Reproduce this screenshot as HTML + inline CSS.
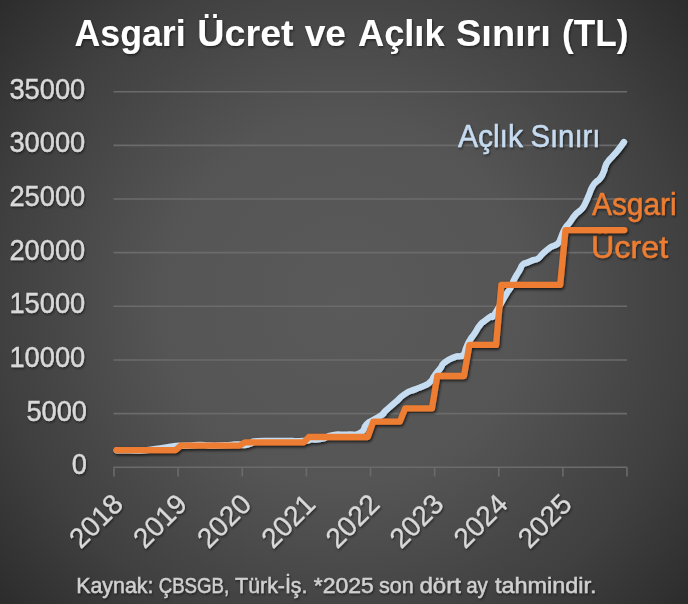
<!DOCTYPE html>
<html><head><meta charset="utf-8"><style>
html,body{margin:0;padding:0;width:688px;height:604px;overflow:hidden;background:#3a3a3a}
svg{display:block}
</style></head><body>
<svg width="688" height="604" viewBox="0 0 688 604">
<defs>
<radialGradient id="bg" gradientUnits="userSpaceOnUse" cx="344" cy="302" r="457.7">
<stop offset="0" stop-color="#5a5a5a"/>
<stop offset="0.4" stop-color="#555555"/>
<stop offset="0.66" stop-color="#454545"/>
<stop offset="0.75" stop-color="#404040"/>
<stop offset="1" stop-color="#2c2c2c"/>
</radialGradient>
<filter id="sh" x="-10%" y="-10%" width="130%" height="130%">
<feDropShadow dx="1" dy="1.6" stdDeviation="1.6" flood-color="#000" flood-opacity="0.75"/>
</filter>
<filter id="tsh" x="-10%" y="-20%" width="130%" height="150%">
<feDropShadow dx="1" dy="1.5" stdDeviation="1" flood-color="#000" flood-opacity="0.5"/>
</filter>
</defs>
<rect width="688" height="604" fill="url(#bg)"/>
<g stroke="#6b6b6b" stroke-width="1.6" fill="none"><line x1="113.5" y1="413.64" x2="627" y2="413.64"/><line x1="113.5" y1="359.98" x2="627" y2="359.98"/><line x1="113.5" y1="306.32" x2="627" y2="306.32"/><line x1="113.5" y1="252.66" x2="627" y2="252.66"/><line x1="113.5" y1="199.00" x2="627" y2="199.00"/><line x1="113.5" y1="145.34" x2="627" y2="145.34"/><line x1="113.5" y1="91.68" x2="627" y2="91.68"/>
<line x1="113.5" y1="467.3" x2="627" y2="467.3"/><line x1="114.00" y1="467.30" x2="114.00" y2="476.5"/><line x1="178.12" y1="467.30" x2="178.12" y2="476.5"/><line x1="242.25" y1="467.30" x2="242.25" y2="476.5"/><line x1="306.38" y1="467.30" x2="306.38" y2="476.5"/><line x1="370.50" y1="467.30" x2="370.50" y2="476.5"/><line x1="434.62" y1="467.30" x2="434.62" y2="476.5"/><line x1="498.75" y1="467.30" x2="498.75" y2="476.5"/><line x1="562.88" y1="467.30" x2="562.88" y2="476.5"/><line x1="627.00" y1="467.30" x2="627.00" y2="476.5"/></g>
<g font-family="'Liberation Sans', Arial, sans-serif" font-weight="bold" font-size="37.3" fill="#fff" filter="url(#tsh)"><text x="74.54" y="45.9" textLength="111.03" lengthAdjust="spacingAndGlyphs">Asgari</text><text x="197.33" y="45.9" textLength="96.33" lengthAdjust="spacingAndGlyphs">Ücret</text><text x="304.65" y="45.9" textLength="41.38" lengthAdjust="spacingAndGlyphs">ve</text><text x="358.03" y="45.9" textLength="86.57" lengthAdjust="spacingAndGlyphs">Açlık</text><text x="456.08" y="45.9" textLength="94.77" lengthAdjust="spacingAndGlyphs">Sınırı</text><text x="561.95" y="45.9" textLength="66.41" lengthAdjust="spacingAndGlyphs">(TL)</text></g>
<g font-family="'Liberation Sans', Arial, sans-serif" font-size="28.8" fill="#d9d9d9" stroke="#d9d9d9" stroke-width="0.4" filter="url(#tsh)"><text x="71.81" y="474.2" textLength="15.15" lengthAdjust="spacingAndGlyphs">0</text><text x="26.39" y="420.5" textLength="60.61" lengthAdjust="spacingAndGlyphs">5000</text><text x="9.45" y="366.9" textLength="75.77" lengthAdjust="spacingAndGlyphs">10000</text><text x="9.45" y="313.2" textLength="75.77" lengthAdjust="spacingAndGlyphs">15000</text><text x="9.45" y="259.6" textLength="75.77" lengthAdjust="spacingAndGlyphs">20000</text><text x="9.45" y="205.9" textLength="75.77" lengthAdjust="spacingAndGlyphs">25000</text><text x="9.45" y="152.2" textLength="75.77" lengthAdjust="spacingAndGlyphs">30000</text><text x="9.45" y="98.6" textLength="75.77" lengthAdjust="spacingAndGlyphs">35000</text></g>
<g font-family="'Liberation Sans', Arial, sans-serif" font-size="28" fill="#d9d9d9" stroke="#d9d9d9" stroke-width="0.25" filter="url(#tsh)"><text transform="translate(124.7,505.7) rotate(-45)" text-anchor="end">2018</text><text transform="translate(188.8,505.7) rotate(-45)" text-anchor="end">2019</text><text transform="translate(252.9,505.7) rotate(-45)" text-anchor="end">2020</text><text transform="translate(317.1,505.7) rotate(-45)" text-anchor="end">2021</text><text transform="translate(381.2,505.7) rotate(-45)" text-anchor="end">2022</text><text transform="translate(445.3,505.7) rotate(-45)" text-anchor="end">2023</text><text transform="translate(509.4,505.7) rotate(-45)" text-anchor="end">2024</text><text transform="translate(573.6,505.7) rotate(-45)" text-anchor="end">2025</text></g>
<g font-family="'Liberation Sans', Arial, sans-serif" font-size="32" fill="#c6dbf0" stroke="#c6dbf0" stroke-width="0.5" filter="url(#tsh)"><text x="457.90" y="146.6" textLength="65.05" lengthAdjust="spacingAndGlyphs">Açlık</text><text x="530.42" y="146.6" textLength="70.10" lengthAdjust="spacingAndGlyphs">Sınırı</text></g>
<g font-family="'Liberation Sans', Arial, sans-serif" font-size="31" fill="#ed7d31" stroke="#ed7d31" stroke-width="0.5" filter="url(#tsh)"><text x="592.00" y="215.3" textLength="84.70" lengthAdjust="spacingAndGlyphs">Asgari</text></g>
<g font-family="'Liberation Sans', Arial, sans-serif" font-size="32" fill="#ed7d31" stroke="#ed7d31" stroke-width="0.5" filter="url(#tsh)"><text x="590.97" y="258.3" textLength="77.23" lengthAdjust="spacingAndGlyphs">Ücret</text></g>
<g filter="url(#sh)" fill="none" stroke-linejoin="round" stroke-linecap="round" stroke-width="6.3">
<path d="M116.70,450.30 C121.13,450.30 120.90,450.30 130.00,450.30 C139.10,450.30 134.00,450.97 144.00,450.30 C154.00,449.63 149.33,449.73 160.00,448.30 C170.67,446.87 169.00,446.83 176.00,446.00 C183.00,445.17 176.33,445.93 181.00,445.80 C185.67,445.67 183.67,445.93 190.00,445.60 C196.33,445.27 193.33,444.83 200.00,444.80 C206.67,444.77 201.67,445.37 210.00,445.50 C218.33,445.63 216.67,445.53 225.00,445.20 C233.33,444.87 230.00,444.73 235.00,444.50 C240.00,444.27 236.67,444.33 240.00,444.50 C243.33,444.67 241.00,445.50 245.00,445.00 C249.00,444.50 248.00,444.27 252.00,443.00 C256.00,441.73 247.67,441.87 257.00,441.20 C266.33,440.53 264.33,441.13 280.00,441.00 C295.67,440.87 294.00,441.30 304.00,440.80 C314.00,440.30 304.33,440.10 310.00,439.50 C315.67,438.90 313.33,440.50 321.00,439.00 C328.67,437.50 324.33,436.47 333.00,435.00 C341.67,433.53 338.00,435.27 347.00,434.60 C356.00,433.93 353.47,436.47 360.00,433.00 C366.53,429.53 362.07,428.60 366.60,424.20 C371.13,419.80 368.37,423.00 373.60,419.80 C378.83,416.60 378.50,417.40 382.30,414.60 C386.10,411.80 380.80,415.37 385.00,411.40 C389.20,407.43 388.27,408.50 394.90,402.70 C401.53,396.90 398.27,398.40 404.90,394.00 C411.53,389.60 408.20,392.33 414.80,389.50 C421.40,386.67 419.40,388.20 424.70,385.50 C430.00,382.80 427.37,384.77 430.70,381.40 C434.03,378.03 431.40,379.87 434.70,375.40 C438.00,370.93 437.20,372.37 440.60,368.00 C444.00,363.63 440.13,365.97 444.90,362.30 C449.67,358.63 449.87,359.03 454.90,357.00 C459.93,354.97 457.13,357.03 460.00,356.20 C462.87,355.37 461.33,357.57 463.50,354.50 C465.67,351.43 464.40,351.73 466.50,347.00 C468.60,342.27 467.07,344.87 469.80,340.30 C472.53,335.73 471.40,338.27 474.70,333.30 C478.00,328.33 476.37,329.53 479.70,325.40 C483.03,321.27 481.07,323.87 484.70,320.90 C488.33,317.93 487.17,318.97 490.60,316.50 C494.03,314.03 490.03,320.57 495.00,313.50 C499.97,306.43 500.33,303.87 505.50,295.30 C510.67,286.73 507.40,293.47 510.50,287.80 C513.60,282.13 511.70,284.27 514.80,278.30 C517.90,272.33 517.13,274.50 519.80,269.90 C522.47,265.30 520.23,266.97 522.80,264.50 C525.37,262.03 523.97,264.00 527.50,262.50 C531.03,261.00 529.93,261.27 533.40,260.00 C536.87,258.73 534.90,260.70 537.90,258.70 C540.90,256.70 539.17,257.10 542.40,254.00 C545.63,250.90 544.63,251.80 547.60,249.40 C550.57,247.00 548.83,248.17 551.30,246.80 C553.77,245.43 552.53,246.73 555.00,245.30 C557.47,243.87 556.70,245.10 558.70,242.50 C560.70,239.90 558.97,242.07 561.00,237.50 C563.03,232.93 561.87,233.87 564.80,228.80 C567.73,223.73 566.47,226.77 569.80,222.30 C573.13,217.83 571.50,219.20 574.80,215.40 C578.10,211.60 577.07,213.40 579.70,210.90 C582.33,208.40 580.70,210.73 582.70,207.90 C584.70,205.07 583.63,206.70 585.70,202.40 C587.77,198.10 586.63,200.30 588.90,195.00 C591.17,189.70 590.13,190.83 592.50,186.50 C594.87,182.17 593.50,184.67 596.00,182.00 C598.50,179.33 597.47,181.83 600.00,178.50 C602.53,175.17 601.77,176.17 603.60,172.00 C605.43,167.83 604.03,169.50 605.50,166.00 C606.97,162.50 605.83,164.50 608.00,161.50 C610.17,158.50 608.77,160.67 612.00,157.00 C615.23,153.33 613.70,155.50 617.70,150.50 C621.70,145.50 621.90,144.83 624.00,142.00" stroke="#c6dcf0"/>
<polyline points="116.7,450.1 122.0,450.1 127.4,450.1 132.7,450.1 138.0,450.1 143.4,450.1 148.7,450.1 154.1,450.1 159.4,450.1 164.8,450.1 170.1,450.1 175.5,450.1 180.8,445.6 186.1,445.6 191.5,445.6 196.8,445.6 202.2,445.6 207.5,445.6 212.9,445.6 218.2,445.6 223.5,445.6 228.9,445.6 234.2,445.6 239.6,445.6 244.9,442.4 250.3,442.4 255.6,442.4 261.0,442.4 266.3,442.4 271.6,442.4 277.0,442.4 282.3,442.4 287.7,442.4 293.0,442.4 298.4,442.4 303.7,442.4 309.0,437.0 314.4,437.0 319.7,437.0 325.1,437.0 330.4,437.0 335.8,437.0 341.1,437.0 346.5,437.0 351.8,437.0 357.1,437.0 362.5,437.0 367.8,437.0 373.2,421.7 378.5,421.7 383.9,421.7 389.2,421.7 394.5,421.7 399.9,421.7 405.2,408.3 410.6,408.3 415.9,408.3 421.3,408.3 426.6,408.3 432.0,408.3 437.3,376.0 442.6,376.0 448.0,376.0 453.3,376.0 458.7,376.0 464.0,376.0 469.4,344.9 474.7,344.9 480.0,344.9 485.4,344.9 490.7,344.9 496.1,344.9 501.4,284.8 506.8,284.8 512.1,284.8 517.5,284.8 522.8,284.8 528.1,284.8 533.5,284.8 538.8,284.8 544.2,284.8 549.5,284.8 554.9,284.8 560.2,284.8 565.5,230.1 570.9,230.1 576.2,230.1 581.6,230.1 586.9,230.1 592.3,230.1 597.6,230.1 603.0,230.1 608.3,230.1 613.6,230.1 619.0,230.1 624.3,230.1" stroke="#ed7d31"/>
</g>
<g font-family="'Liberation Sans', Arial, sans-serif" font-size="21.7" fill="#d0d0d0" stroke="#d0d0d0" stroke-width="0.45" filter="url(#tsh)"><text x="76.17" y="592.6" textLength="77.30" lengthAdjust="spacingAndGlyphs">Kaynak:</text><text x="158.74" y="592.6" textLength="70.37" lengthAdjust="spacingAndGlyphs">ÇBSGB,</text><text x="235.11" y="592.6" textLength="72.35" lengthAdjust="spacingAndGlyphs">Türk-İş.</text><text x="313.74" y="592.6" textLength="60.09" lengthAdjust="spacingAndGlyphs">*2025</text><text x="378.90" y="592.6" textLength="34.73" lengthAdjust="spacingAndGlyphs">son</text><text x="419.47" y="592.6" textLength="41.49" lengthAdjust="spacingAndGlyphs">dört</text><text x="466.19" y="592.6" textLength="21.63" lengthAdjust="spacingAndGlyphs">ay</text><text x="494.93" y="592.6" textLength="101.65" lengthAdjust="spacingAndGlyphs">tahmindir.</text></g>
</svg>
</body></html>
